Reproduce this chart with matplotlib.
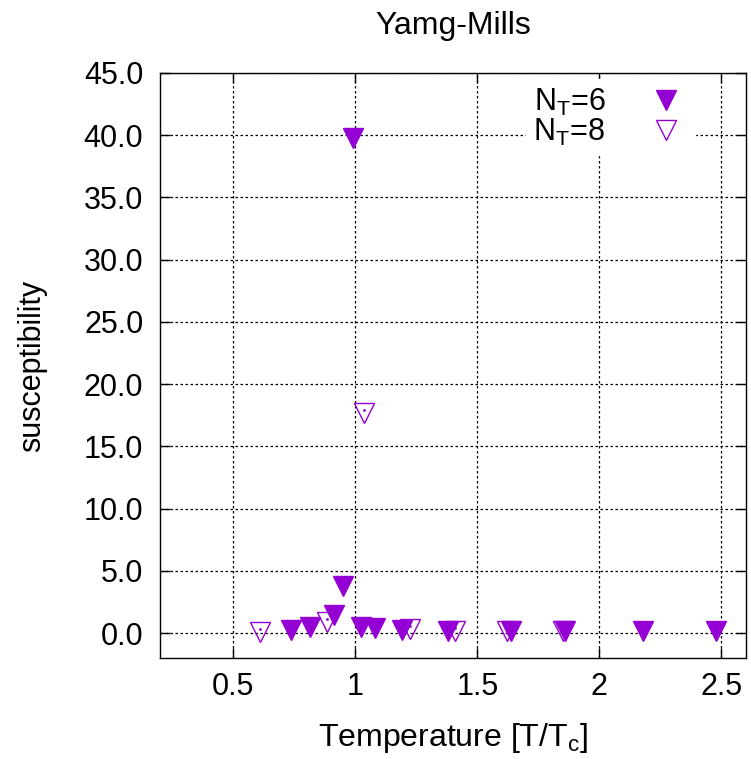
import matplotlib
matplotlib.use('Agg')
import matplotlib.pyplot as plt

plt.rcParams['font.family'] = ['Liberation Sans', 'DejaVu Sans']

# Susceptibility vs temperature, two lattice extents
t_nt6 = [0.737, 0.815, 0.914, 0.95, 0.99, 1.025, 1.08, 1.19, 1.38, 1.64, 1.86, 2.18, 2.48]
chi_nt6 = [0.24, 0.5, 1.45, 3.8, 39.8, 0.5, 0.4, 0.25, 0.2, 0.2, 0.2, 0.15, 0.15]
t_nt8 = [0.61, 0.885, 1.037, 1.225, 1.41, 1.62, 1.85]
chi_nt8 = [0.1, 0.9, 17.7, 0.3, 0.2, 0.2, 0.2]

xticks = [0.5, 1, 1.5, 2, 2.5]
xticklabels = ['0.5', '1', '1.5', '2', '2.5']
yticks = [0, 5, 10, 15, 20, 25, 30, 35, 40, 45]

color = '#9400d3'
fs = 22

fig = plt.figure(figsize=(7.51, 7.59), dpi=100)
ax = fig.add_axes([0.213, 0.133, 0.780, 0.771])

ax.plot(t_nt6, chi_nt6, linestyle='none', marker='v', ms=15,
        color=color, mec=color, label=r'N$_\mathregular{T}$=6', zorder=3)
ax.plot(t_nt8, chi_nt8, linestyle='none', marker='v', ms=15,
        mfc='none', mec=color, mew=1.0, label=r'N$_\mathregular{T}$=8', zorder=3)
# small dot in the middle of the open triangles
ax.plot(t_nt8, [c + 0.25 for c in chi_nt8], linestyle='none', marker='.',
        ms=2, color=color, zorder=3)

ax.set_xlim(0.2, 2.6)
ax.set_ylim(-2, 45)
ax.set_xticks(xticks)
ax.set_xticklabels(xticklabels)
ax.set_yticks(yticks)
ax.set_yticklabels([f'{v:.1f}' for v in yticks])

ax.grid(True, color='black', linestyle=(0, (2, 2)), linewidth=0.9)
ax.tick_params(direction='in', top=True, right=True, length=7,
               width=1.0, labelsize=fs)
ax.tick_params(axis='y', pad=12)
ax.tick_params(axis='x', pad=10)
for s in ax.spines.values():
    s.set_linewidth(1.0)

ax.set_title('Yamg-Mills', fontsize=23, pad=28)
ax.set_xlabel(r'Temperature [T/T$_\mathregular{c}$]', fontsize=23, labelpad=14)
ax.set_ylabel('susceptibility', fontsize=fs, labelpad=26)

leg = ax.legend(loc='upper right', bbox_to_anchor=(0.94, 1.015),
                markerfirst=False, fontsize=fs, frameon=True,
                handletextpad=1.3, labelspacing=-0.05, borderpad=0.25,
                handlelength=1.4, fancybox=False)
leg.get_frame().set_edgecolor('white')
leg.get_frame().set_facecolor('white')
leg.get_frame().set_alpha(1.0)

fig.savefig('out.png', dpi=100)
